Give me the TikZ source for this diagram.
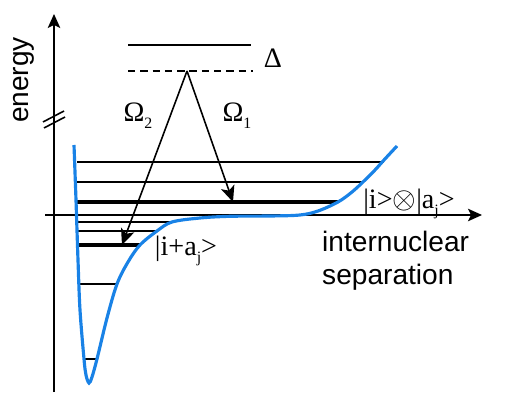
\documentclass[tikz,border=0pt]{standalone}
\usepackage{fontspec}
\setmainfont{Liberation Sans}
\newfontfamily\serif{Liberation Serif}
\usetikzlibrary{arrows.meta}
\definecolor{potblue}{RGB}{25,130,230}
\newcommand\lowsub[1]{\raisebox{-0.55ex}{\fontsize{9}{10}\selectfont #1}}

\tikzset{
  axis/.style={line width=0.9pt,-{Stealth[length=0.28cm,width=0.25cm,inset=0.06cm]}},
  level/.style={line width=0.85pt},
  strong/.style={line width=1.8pt},
  transition/.style={line width=0.9pt,-{Stealth[length=0.32cm,width=0.28cm,inset=0.08cm]}},
  serifl/.style={font=\serif\fontsize{16}{18}\selectfont},
  sansl/.style={font=\fontsize{16}{19}\selectfont}
}

\begin{document}
\begin{tikzpicture}[x=0.02cm,y=-0.02cm]
            \useasboundingbox (0,0) rectangle (521,402);

            \draw[axis] (54,392) -- (54,14);
            \draw[axis] (45,215) -- (482,215);
            \draw[line width=0.9pt] (43,122) -- (64,111);
            \draw[line width=0.9pt] (44,128) -- (65,117);
            \node[sansl, rotate=90] (energy) at (24,80) {energy};
            \node[sansl, align=left, anchor=west] (sep) at (316,261) {internuclear\\separation};

            \draw[level] (128,45) -- (251,45);
            \draw[level, dash pattern=on 4.2pt off 2.8pt] (128,71) -- (253,71);
            \node[serifl] (delta) at (273,58) {Δ};

            \draw[level] (77,162) -- (384,162);
            \draw[level] (77,182) -- (364,182);
            \draw[strong] (77,202) -- (338,202);
            \draw[level] (78,222) -- (172,222);
            \draw[level] (78,231) -- (157,231);
            \draw[strong] (78,245) -- (140,245);
            \draw[level] (79,284) -- (117,284);
            \draw[level] (84,359) -- (97,359);

            \draw[potblue, line width=1.8pt] plot[smooth, tension=0.55] coordinates {
              (74,145) (76,200) (78,260) (80,310) (84,359) (86,375) (89,383)
              (92,377) (97,359) (107,318) (117,284) (128,262) (140,245)
              (157,231) (172,222) (200,218) (230,216.3) (270,216) (300,215)
              (318,211) (338,202) (352,192) (364,181) (375,170) (384,160) (397,146)};

            \coordinate (apex) at (187,71);
            \coordinate (upper) at (233,202);
            \coordinate (lower) at (122,245);
            \draw[transition] (apex) -- (upper);
            \draw[transition] (apex) -- (lower);
            \node[serifl] (om2) at (138,116) {Ω\lowsub{2}};
            \node[serifl] (om1) at (237,116) {Ω\lowsub{1}};

            \node[serifl] (sep0) at (409,204) {|i>$\otimes$|a\lowsub{j}>};
            \node[serifl] (bound) at (186,251) {|i+a\lowsub{j}>};
        \end{tikzpicture}
\end{document}
